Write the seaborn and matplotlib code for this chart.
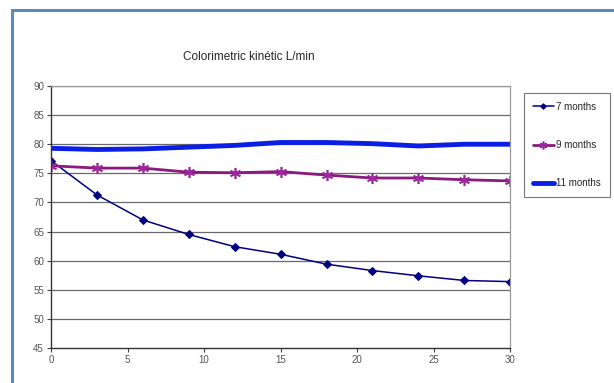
import numpy as np
import pandas as pd
import seaborn as sns
import matplotlib.pyplot as plt
from matplotlib.patches import Rectangle

# data
days = [0, 3, 6, 9, 12, 15, 18, 21, 24, 27, 30]
m7 = [77.2, 71.3, 67.0, 64.5, 62.4, 61.1, 59.4, 58.3, 57.4, 56.6, 56.4]
m9 = [76.3, 75.9, 75.9, 75.2, 75.1, 75.3, 74.7, 74.2, 74.2, 73.9, 73.7]
m11 = [79.3, 79.1, 79.2, 79.5, 79.8, 80.3, 80.3, 80.1, 79.7, 80.0, 80.0]

sns.set_style("white")
plt.rcParams['font.family'] = ['Liberation Sans', 'DejaVu Sans']

fig = plt.figure(figsize=(6.14, 3.83), dpi=100)
ax = fig.add_axes([0.083, 0.0914, 0.748, 0.684])

# outer frame (blue-grey border at left/top)
fig.patches.append(Rectangle((12 / 614, -0.05), 1.2, 1 - 10 / 383 + 0.05,
                             transform=fig.transFigure, fill=False,
                             edgecolor="#5b8ac0", lw=2.2, zorder=0))

sns.lineplot(x=days, y=m7, ax=ax, color="#000080", lw=1.1, marker="D",
             markersize=4, markeredgecolor="#000080", label="7 months")
sns.lineplot(x=days, y=m9, ax=ax, color="#8b1a7e", lw=2.0, marker=(6, 2, 0),
             markersize=8, markeredgewidth=1.2, markeredgecolor="#9b2a9b",
             label="9 months")
sns.lineplot(x=days, y=m11, ax=ax, color="#0a1ee6", lw=3.5, label="11 months")

ax.set_xlim(0, 30)
ax.set_ylim(45, 90)
ax.set_xticks(range(0, 31, 5))
ax.set_yticks(range(45, 91, 5))
for y in range(50, 91, 5):
    ax.axhline(y, color="#6a6a6a", lw=0.9, zorder=0)
ax.tick_params(axis="both", labelsize=7, labelcolor="#555555", length=3,
               direction="out", color="#444444", left=True, bottom=True, pad=2)
for side in ["left", "bottom"]:
    ax.spines[side].set_color("#333333")
    ax.spines[side].set_linewidth(1)
for side in ["top", "right"]:
    ax.spines[side].set_color("#999999")
    ax.spines[side].set_linewidth(0.9)

fig.text(0.405, 0.851, "Colorimetric kinétic L/min", ha="center", va="center",
         fontsize=8.5)

ax.get_legend().remove()
h, l = ax.get_legend_handles_labels()
leg = fig.legend(h, l, loc="upper left", bbox_to_anchor=(524 / 614, 1 - 93 / 383),
                 fontsize=7, frameon=True, fancybox=False, edgecolor="#555555",
                 handlelength=2.2, labelspacing=2.9, borderpad=0.9,
                 handletextpad=0.2, borderaxespad=0, markerscale=0.7)
leg.get_frame().set_linewidth(0.8)

fig.savefig("out.png", dpi=100)
